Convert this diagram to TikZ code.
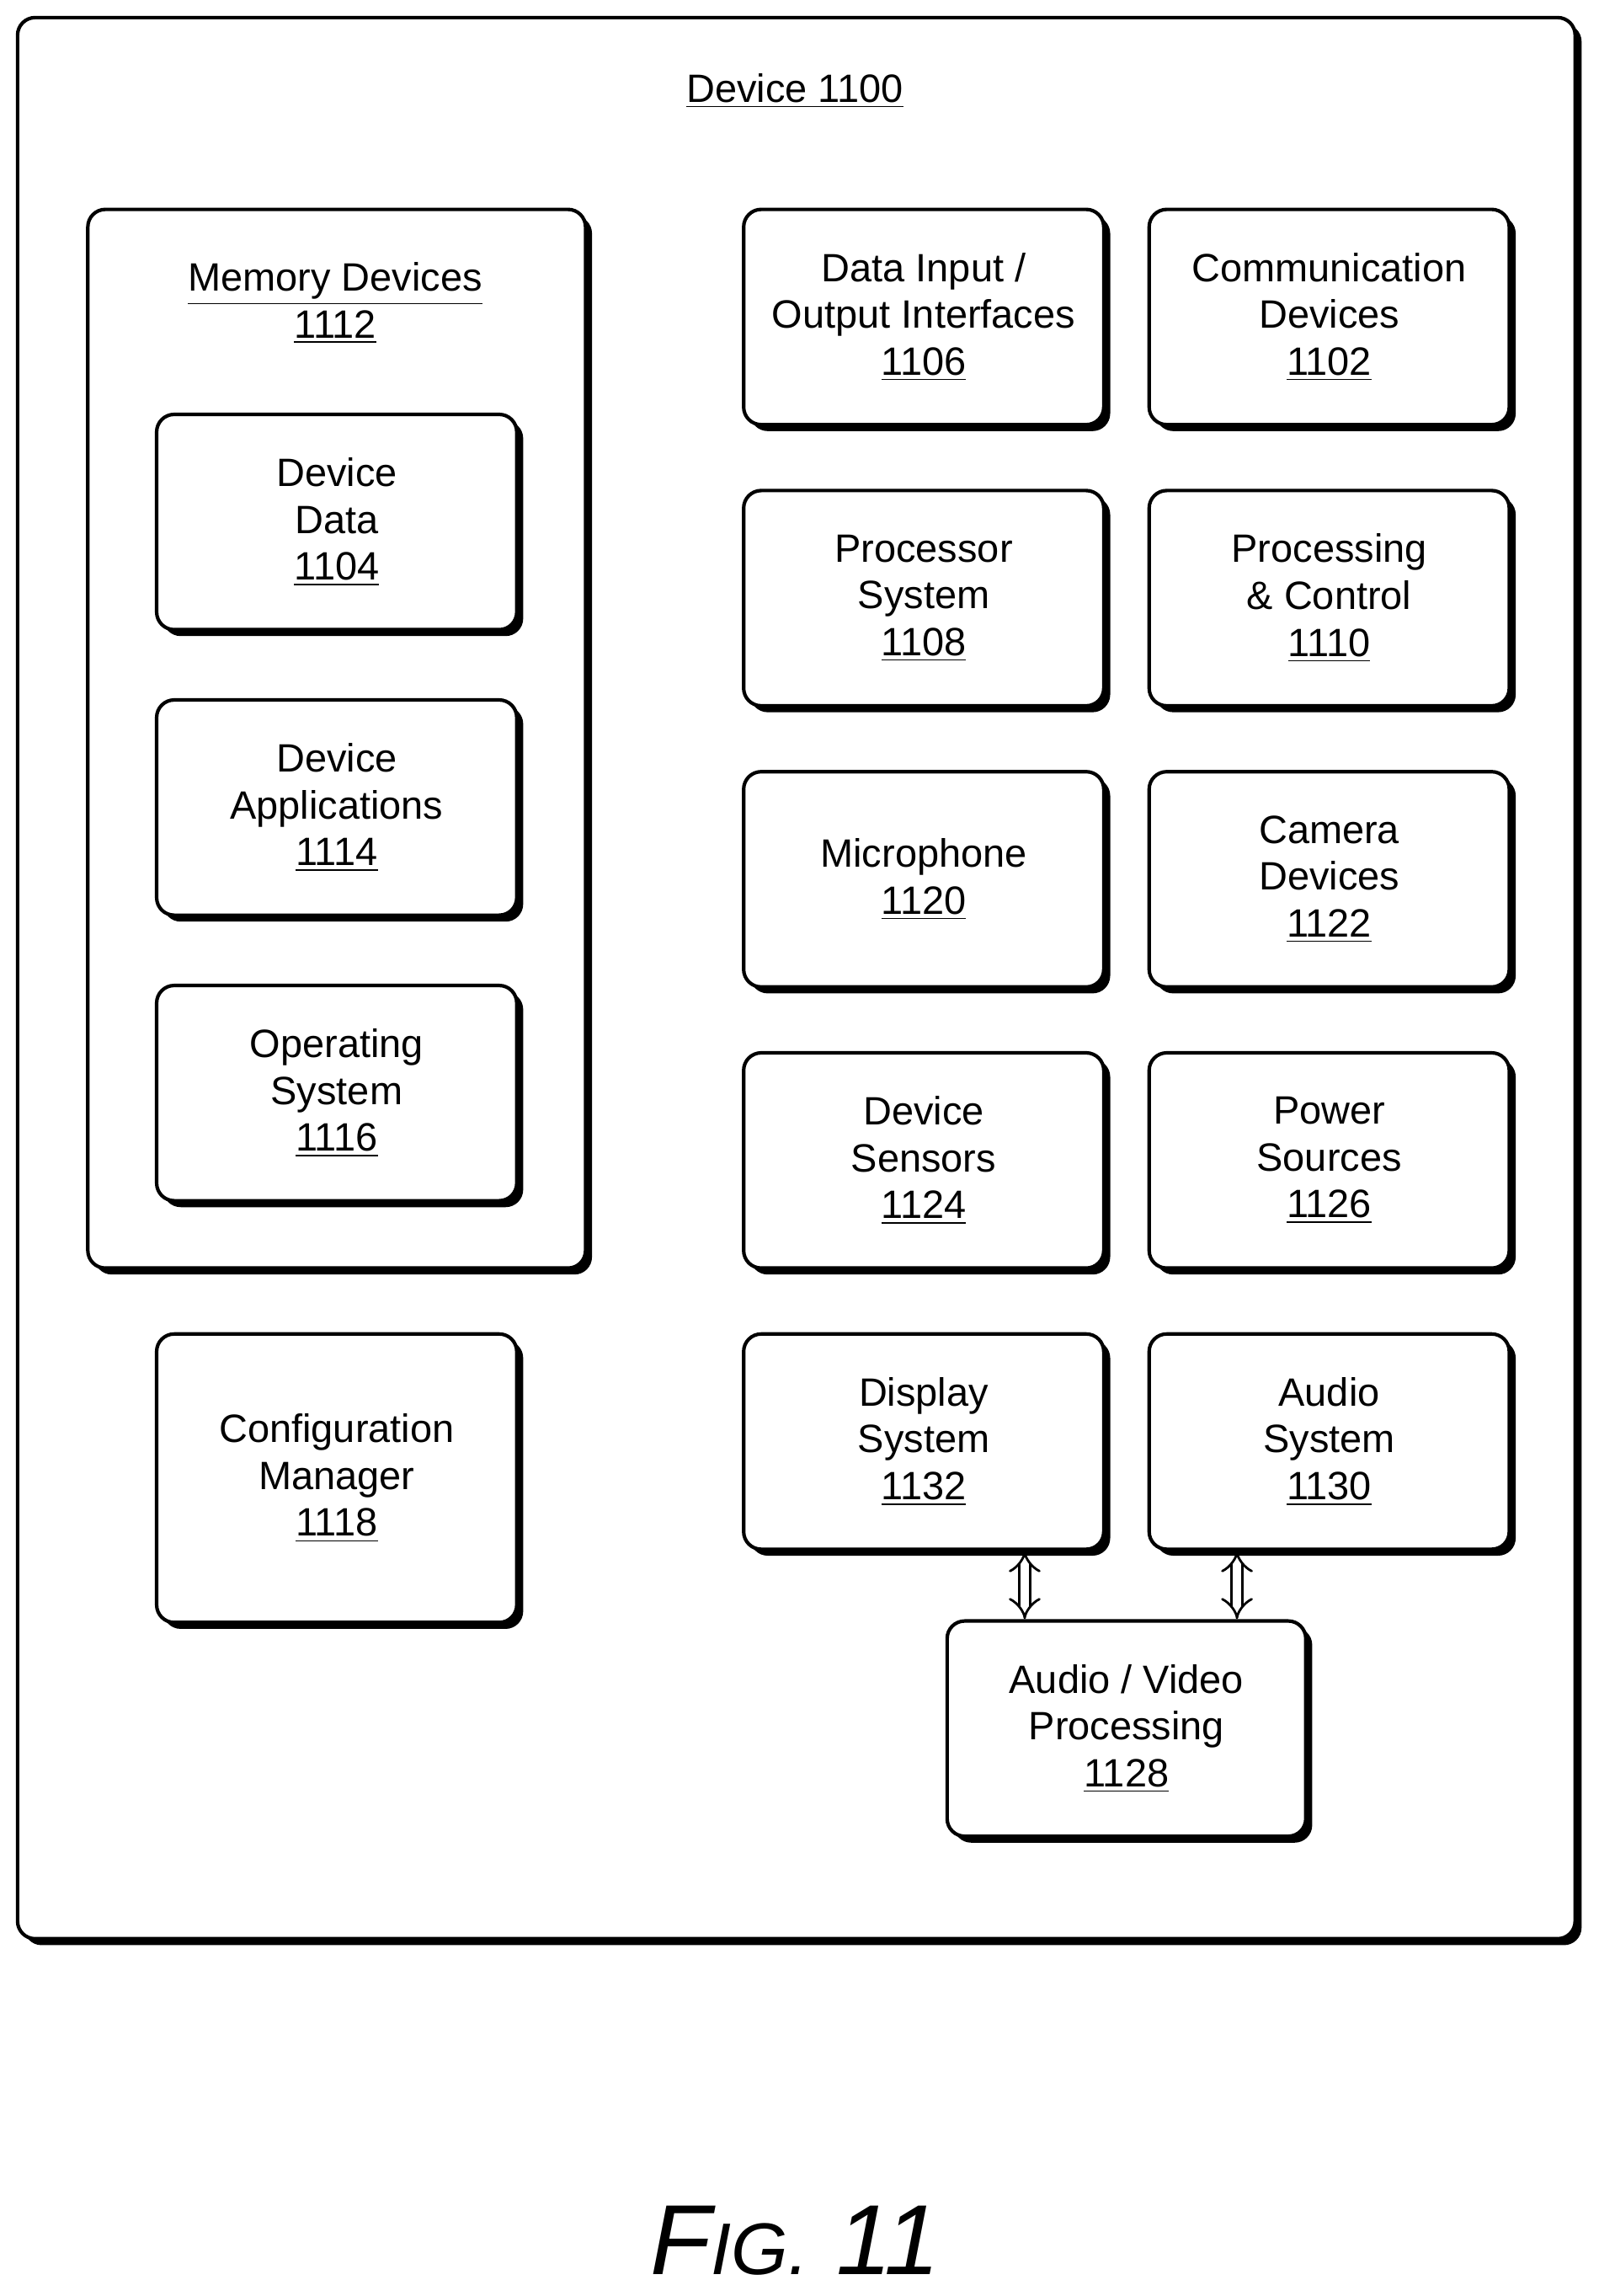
\documentclass[tikz,border=0pt]{standalone}
\usepackage{fontspec}
\setmainfont{Liberation Sans}
\usetikzlibrary{shadows,arrows.meta}
\tikzset{
  box/.style={draw, very thick, rounded corners=6pt, fill=white, align=center,
    font=\fontsize{13.5}{16}\selectfont,
    drop shadow={shadow xshift=2.2pt, shadow yshift=-2.2pt, fill=black, opacity=1}},
  dblarrow/.style={double, double distance=3pt, thick, {Implies}-{Implies}}
}
\newcommand{\ul}[1]{\underline{#1}}
\begin{document}
\begin{tikzpicture}[x=0.5pt,y=-0.5pt]
  \useasboundingbox (0,0) rectangle (1092,1568);
  % outer device
  \node[box, minimum width=532pt, minimum height=656pt] (dev) at (544,668) {};
  \node[font=\fontsize{13.5}{16}\selectfont] (devt) at (543,62) {\ul{Device 1100}};
  % memory devices
  \node[box, minimum width=170pt, minimum height=361.5pt] (mem) at (230,504.5) {};
  \node[align=center, font=\fontsize{13.5}{16}\selectfont] (memt) at (229,207) {\ul{Memory Devices}\\\ul{1112}};
  \node[box, minimum width=123pt, minimum height=73.5pt] (ddata) at (230,356.5) {Device\\Data\\\ul{1104}};
  \node[box, minimum width=123pt, minimum height=73.5pt] (dapps) at (230,551.5) {Device\\Applications\\\ul{1114}};
  \node[box, minimum width=123pt, minimum height=73.5pt] (os) at (230,746.5) {Operating\\System\\\ul{1116}};
  \node[box, minimum width=123pt, minimum height=98.5pt] (cfg) at (230,1009.5) {Configuration\\Manager\\\ul{1118}};
  % right columns
  \node[box, minimum width=123pt, minimum height=73.5pt] (dio) at (631,216.5) {Data Input /\\Output Interfaces\\\ul{1106}};
  \node[box, minimum width=123pt, minimum height=73.5pt] (comm) at (908,216.5) {Communication\\Devices\\\ul{1102}};
  \node[box, minimum width=123pt, minimum height=73.5pt] (proc) at (631,408.5) {Processor\\System\\\ul{1108}};
  \node[box, minimum width=123pt, minimum height=73.5pt] (pctl) at (908,408.5) {Processing\\\& Control\\\ul{1110}};
  \node[box, minimum width=123pt, minimum height=73.5pt] (mic) at (631,600.5) {Microphone\\\ul{1120}};
  \node[box, minimum width=123pt, minimum height=73.5pt] (cam) at (908,600.5) {Camera\\Devices\\\ul{1122}};
  \node[box, minimum width=123pt, minimum height=73.5pt] (sens) at (631,792.5) {Device\\Sensors\\\ul{1124}};
  \node[box, minimum width=123pt, minimum height=73.5pt] (pwr) at (908,792.5) {Power\\Sources\\\ul{1126}};
  \node[box, minimum width=123pt, minimum height=73.5pt] (disp) at (631,984.5) {Display\\System\\\ul{1132}};
  \node[box, minimum width=123pt, minimum height=73.5pt] (aud) at (908,984.5) {Audio\\System\\\ul{1130}};
  \node[box, minimum width=122.5pt, minimum height=73.5pt] (av) at (769.5,1180.5) {Audio / Video\\Processing\\\ul{1128}};
  % links
  \coordinate (l1) at (700,1080);
  \coordinate (l2) at (845,1080);
  \draw[dblarrow] (l1 |- disp.south) -- (l1 |- av.north);
  \draw[dblarrow] (l2 |- aud.south) -- (l2 |- av.north);
  % caption
  \node[font=\itshape\fontsize{34}{40}\selectfont] (fig) at (543,1530) {F{\fontsize{25}{30}\selectfont IG.} 11};
\end{tikzpicture}
\end{document}
